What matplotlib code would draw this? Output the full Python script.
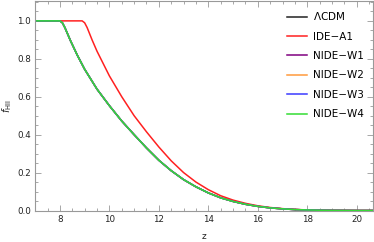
import matplotlib
matplotlib.use("Agg")
import matplotlib.pyplot as plt
from matplotlib.ticker import MultipleLocator

# ionized fraction vs redshift
z_w = [7.0, 8.0, 8.1, 8.2, 8.43, 8.7, 9.0, 9.5, 10.0, 10.5, 11.0, 11.5, 12.0,
       12.5, 13.0, 13.5, 14.0, 14.5, 15.0, 15.5, 16.0, 16.5, 17.0, 17.5, 18.0,
       18.5, 19.0, 20.0, 20.7]
f_w = [1.0, 1.0, 0.99, 0.965, 0.895, 0.82, 0.745, 0.64, 0.553, 0.472, 0.4,
       0.33, 0.265, 0.21, 0.163, 0.125, 0.093, 0.067, 0.048, 0.033, 0.022,
       0.014, 0.009, 0.005, 0.003, 0.0015, 0.0007, 0.0, 0.0]

z_a1 = [7.0, 8.9, 9.0, 9.1, 9.3, 9.5, 10.0, 10.5, 11.0, 11.5, 12.0, 12.5, 13.0,
        13.5, 14.0, 14.5, 15.0, 15.5, 16.0, 16.5, 17.0, 17.5, 18.0, 18.5, 19.0,
        20.0, 20.7]
f_a1 = [1.0, 1.0, 0.99, 0.965, 0.9, 0.84, 0.71, 0.6, 0.5, 0.415, 0.335, 0.262,
        0.2, 0.15, 0.11, 0.078, 0.055, 0.038, 0.025, 0.016, 0.01, 0.006, 0.003,
        0.0015, 0.0007, 0.0, 0.0]

# LCDM and NIDE-W1..W3 sit right under NIDE-W4 in the picture
labels = [r"$\Lambda$CDM", "IDE\u2212A1", "NIDE\u2212W1", "NIDE\u2212W2", "NIDE\u2212W3", "NIDE\u2212W4"]
colors = ["#222222", "#ff2020", "#800080", "#ff9a3c", "#3a3aff", "#33dd33"]
series = [(z_w, f_w), (z_a1, f_a1), (z_w, f_w), (z_w, f_w), (z_w, f_w), (z_w, f_w)]

plt.rcParams['font.family'] = ['DejaVu Sans']
fig = plt.figure(figsize=(3.74, 2.42), dpi=100)
ax = fig.add_axes([0.094, 0.13, 0.903, 0.866])

for (zz, ff), lab, c in zip(series, labels, colors):
    ax.plot(zz, ff, color=c, lw=1.1, label=lab)

ax.set_xlim(7.0, 20.65)
ax.set_ylim(0.0, 1.105)
ax.xaxis.set_major_locator(MultipleLocator(2))
ax.xaxis.set_minor_locator(MultipleLocator(0.5))
ax.yaxis.set_major_locator(MultipleLocator(0.2))
ax.yaxis.set_minor_locator(MultipleLocator(0.05))
ax.xaxis.set_major_formatter(plt.FormatStrFormatter('%d'))
ax.yaxis.set_major_formatter(plt.FormatStrFormatter('%.1f'))

for s in ax.spines.values():
    s.set_color('#999999')
    s.set_linewidth(0.8)
ax.tick_params(which='both', direction='in', top=True, right=True,
               color='#999999', labelsize=6.3, labelcolor='#222222', width=0.6)
ax.tick_params(which='major', length=4, pad=3)
ax.tick_params(which='minor', length=2.2)

ax.set_xlabel('z', fontsize=6.5, labelpad=6, color='#222222')
ax.set_ylabel(r'$f_{\rm HII}$', fontsize=7, labelpad=2, color='#222222')

ax.legend(loc='upper right', frameon=False, fontsize=7.5, handlelength=2.0,
          labelspacing=0.9, handletextpad=0.5, borderaxespad=0.5)

fig.savefig('out.png', dpi=100)
